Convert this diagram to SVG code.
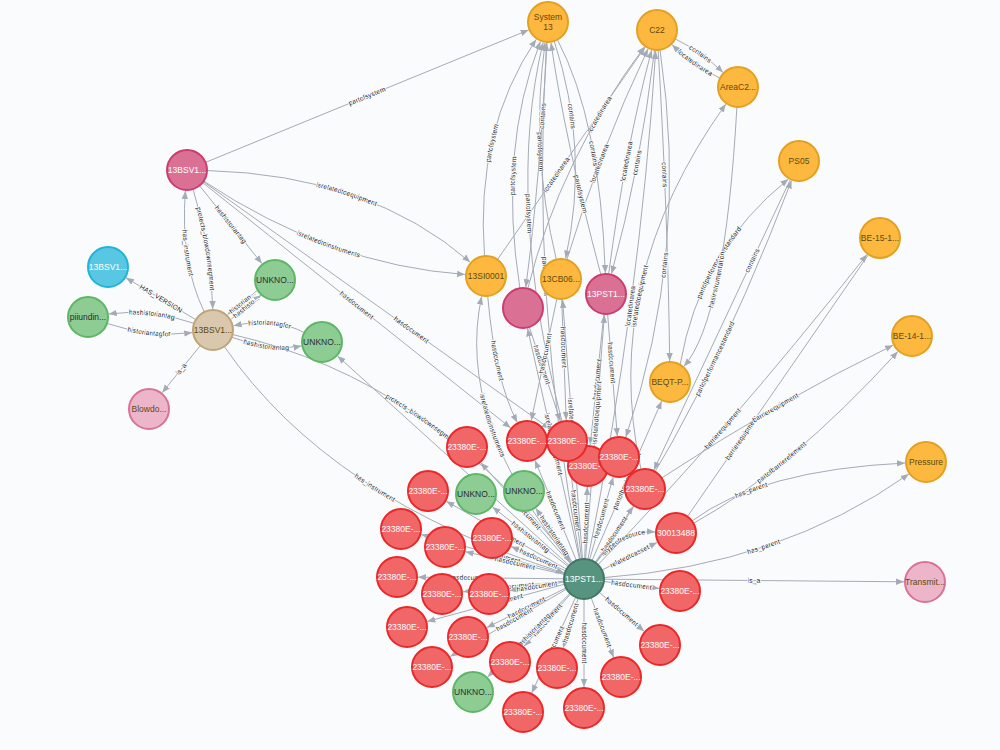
<svg xmlns="http://www.w3.org/2000/svg" width="1000" height="750" viewBox="0 0 1000 750">
<defs>
<marker id="a" viewBox="0 0 10 10" refX="10" refY="5" markerWidth="8" markerHeight="8" markerUnits="userSpaceOnUse" orient="auto-start-reverse"><path d="M0,1 L10,5 L0,9 z" fill="#A5ABB6"/></marker>
<style>
.e{fill:none;stroke:#A5ABB6;stroke-width:1}
.t{font-family:'Liberation Sans',Arial,sans-serif;font-size:6.8px;fill:#222;stroke:#F9FBFD;stroke-width:2px;paint-order:stroke;stroke-linejoin:round;text-anchor:middle}
.n circle{stroke-width:2}
.n text{font-family:'Liberation Sans',Arial,sans-serif;font-size:8.5px;text-anchor:middle;dominant-baseline:central}
.or circle{fill:#FDB93F;stroke:#E3A021}.or text{fill:#604A0E}
.rd circle{fill:#F16667;stroke:#EB2728}.rd text{fill:#fff}
.gr circle{fill:#8DCC93;stroke:#5DB665}.gr text{fill:#2A2C34}
.cr circle{fill:#DA7194;stroke:#CC3C6C}.cr text{fill:#fff}
.pk circle{fill:#ECB5C9;stroke:#DA7298}.pk text{fill:#604A0E}
.tn circle{fill:#D9C8AE;stroke:#C0A378}.tn text{fill:#604A0E}
.bl circle{fill:#57C7E3;stroke:#23B3D7}.bl text{fill:#fff}
.dg circle{fill:#569480;stroke:#447666}.dg text{fill:#fff}
</style>
</defs>
<rect width="1000" height="750" fill="#F9FBFD"/>
<g id="connectors">
<path id="e1" class="e" d="M205.5,162.4 L528.6,30" marker-end="url(#a)"/><text class="t" dy="2.2"><textPath href="#e1" startOffset="50%">partofsystem</textPath></text>
<path id="e2" class="e" d="M207,170.5 Q370,175 470.2,262.2" marker-end="url(#a)"/><text class="t" dy="2.2"><textPath href="#e2" startOffset="50%">isrelatedtoequipment</textPath></text>
<path id="e3" class="e" d="M203.7,181.1 Q330,265 465.1,274.5" marker-end="url(#a)"/><text class="t" dy="2.2"><textPath href="#e3" startOffset="50%">isrelatedtoinstruments</textPath></text>
<path id="e4" class="e" d="M202.6,182.5 L510.6,427.9" marker-end="url(#a)"/><text class="t" dy="2.2"><textPath href="#e4" startOffset="50%">hasdocument</textPath></text>
<path id="e5" class="e" d="M203.3,181.6 L549.9,428.8" marker-end="url(#a)"/><text class="t" dy="2.2"><textPath href="#e5" startOffset="60%">hasdocument</textPath></text>
<path id="e6" class="e" d="M199.5,185.6 L261.9,263.6" marker-end="url(#a)"/><text class="t" dy="2.2"><textPath href="#e6" startOffset="50%">hashistoriantag</textPath></text>
<path id="e7" class="e" d="M193,189.1 Q212,250 212.7,309" marker-end="url(#a)"/><text class="t" dy="2.2"><textPath href="#e7" startOffset="50%">protects_blowdownsegment</textPath></text>
<path id="e8" class="e" d="M185.4,190.9 Q180,262 204.3,312" marker-start="url(#a)"/><text class="t" dy="2.2"><textPath href="#e8" startOffset="50%">has_instrument</textPath></text>
<path id="e9" class="e" d="M126,277.8 L195.8,319.7" marker-start="url(#a)"/><text class="t" dy="2.2"><textPath href="#e9" startOffset="50%">HAS_VERSION</textPath></text>
<path id="e10" class="e" d="M108.8,314 Q150,308 194.1,323.4" marker-start="url(#a)"/><text class="t" dy="2.2"><textPath href="#e10" startOffset="50%">hashistoriantag</textPath></text>
<path id="e11" class="e" d="M106.9,323.4 Q150,338 192.2,332.6" marker-end="url(#a)"/><text class="t" dy="2.2"><textPath href="#e11" startOffset="50%">historiantagfor</textPath></text>
<path id="e12" class="e" d="M162.2,392.7 L200.4,345.5" marker-start="url(#a)"/><text class="t" dy="2.2"><textPath href="#e12" startOffset="50%">is_a</textPath></text>
<path id="e13" class="e" d="M227.5,314.5 L257.5,290.3" marker-start="url(#a)"/><text class="t" dy="2.2"><textPath href="#e13" startOffset="50%">historian...</textPath></text>
<path id="e14" class="e" d="M231.3,319.1 L261.3,294.9" marker-end="url(#a)"/><text class="t" dy="2.2"><textPath href="#e14" startOffset="50%">hashisto...</textPath></text>
<path id="e15" class="e" d="M233.6,325.7 Q275,317 304.3,332.6" marker-start="url(#a)"/><text class="t" dy="2.2"><textPath href="#e15" startOffset="50%">historiantagfor</textPath></text>
<path id="e16" class="e" d="M231.7,337.2 Q270,352 301.4,346" marker-end="url(#a)"/><text class="t" dy="2.2"><textPath href="#e16" startOffset="50%">hashistoriantag</textPath></text>
<path id="e17" class="e" d="M224.3,346.5 Q330,500 564,572.8" marker-end="url(#a)"/><text class="t" dy="2.2"><textPath href="#e17" startOffset="50%">has_instrument</textPath></text>
<path id="e18" class="e" d="M232.5,334.5 Q430,380 571.1,562.4" marker-end="url(#a)"/><text class="t" dy="2.2"><textPath href="#e18" startOffset="50%">protects_blowdownsegment</textPath></text>
<path id="e19" class="e" d="M337.6,356.1 L569.2,565.6" marker-start="url(#a)"/>
<path id="f1" class="e" d="M480.9,462.7 L570.7,564" marker-start="url(#a)"/><text class="t" dy="2.2"><textPath href="#f1" startOffset="50%">hasdocument</textPath></text>
<path id="f2" class="e" d="M535,460.4 L576.4,560.5" marker-start="url(#a)"/><text class="t" dy="2.2"><textPath href="#f2" startOffset="50%">hasdocument</textPath></text>
<path id="f3" class="e" d="M569.6,461.9 L581.6,559.1" marker-start="url(#a)"/><text class="t" dy="2.2"><textPath href="#f3" startOffset="50%">hasdocument</textPath></text>
<path id="f4" class="e" d="M584.7,559 L587.3,487" marker-end="url(#a)"/><text class="t" dy="2.2"><textPath href="#f4" startOffset="50%">hasdocument</textPath></text>
<path id="f5" class="e" d="M589.5,559.8 L613.2,477.2" marker-end="url(#a)"/><text class="t" dy="2.2"><textPath href="#f5" startOffset="50%">hasdocument</textPath></text>
<path id="f6" class="e" d="M595.2,562.4 L633.2,506.4" marker-end="url(#a)"/><text class="t" dy="2.2"><textPath href="#f6" startOffset="50%">hasdocument</textPath></text>
<path id="f7" class="e" d="M446.3,501.3 L566.6,569.2" marker-start="url(#a)"/><text class="t" dy="2.2"><textPath href="#f7" startOffset="50%">hasdocument</textPath></text>
<path id="f8" class="e" d="M421.3,534.5 L564.7,573.7" marker-start="url(#a)"/><text class="t" dy="2.2"><textPath href="#f8" startOffset="55%">hasdocument</textPath></text>
<path id="f9" class="e" d="M465.5,551.7 L564.5,574.5" marker-start="url(#a)"/><text class="t" dy="2.2"><textPath href="#f9" startOffset="50%">hasdocument</textPath></text>
<path id="f10" class="e" d="M511.2,546.5 L565.7,570.9" marker-start="url(#a)"/><text class="t" dy="2.2"><textPath href="#f10" startOffset="50%">hasdocument</textPath></text>
<path id="f11" class="e" d="M418,577.2 L564,578.8" marker-start="url(#a)"/><text class="t" dy="2.2"><textPath href="#f11" startOffset="35%">hasdocument</textPath></text>
<path id="f12" class="e" d="M462.9,591.8 L564.1,581.1" marker-start="url(#a)"/><text class="t" dy="2.2"><textPath href="#f12" startOffset="50%">hasdocument</textPath></text>
<path id="f13" class="e" d="M509.7,590.7 L564.2,582.1" marker-start="url(#a)"/><text class="t" dy="2.2"><textPath href="#f13" startOffset="50%">hasdocument</textPath></text>
<path id="f14" class="e" d="M603.9,581.5 L659.1,588.4" marker-end="url(#a)"/><text class="t" dy="2.2"><textPath href="#f14" startOffset="50%">hasdocument</textPath></text>
<path id="f15" class="e" d="M427.3,621.5 L564.7,584.2" marker-start="url(#a)"/><text class="t" dy="2.2"><textPath href="#f15" startOffset="55%">hasdocument</textPath></text>
<path id="f16" class="e" d="M486.8,627.6 L566.1,587.9" marker-start="url(#a)"/><text class="t" dy="2.2"><textPath href="#f16" startOffset="50%">hasdocument</textPath></text>
<path id="f17" class="e" d="M599.1,592.1 L644.1,631.2" marker-end="url(#a)"/><text class="t" dy="2.2"><textPath href="#f17" startOffset="50%">hasdocument</textPath></text>
<path id="f18" class="e" d="M450.2,656.5 L566.7,589" marker-start="url(#a)"/><text class="t" dy="2.2"><textPath href="#f18" startOffset="55%">hasdocument</textPath></text>
<path id="f19" class="e" d="M524,646.3 L570.7,593.9" marker-start="url(#a)"/><text class="t" dy="2.2"><textPath href="#f19" startOffset="50%">hasdocument</textPath></text>
<path id="f20" class="e" d="M563.1,647.9 L578.2,598.1" marker-start="url(#a)"/><text class="t" dy="2.2"><textPath href="#f20" startOffset="50%">hasdocument</textPath></text>
<path id="f21" class="e" d="M591.1,597.7 L613.6,657.4" marker-end="url(#a)"/><text class="t" dy="2.2"><textPath href="#f21" startOffset="50%">hasdocument</textPath></text>
<path id="f22" class="e" d="M531.8,692.9 L575.7,597.2" marker-start="url(#a)"/><text class="t" dy="2.2"><textPath href="#f22" startOffset="50%">hasdocument</textPath></text>
<path id="f23" class="e" d="M584,599 L584,687" marker-end="url(#a)"/><text class="t" dy="2.2"><textPath href="#f23" startOffset="50%">hasdocument</textPath></text>
<path id="f24" class="e" d="M487.7,677 L570,593.3" marker-start="url(#a)"/><text class="t" dy="2.2"><textPath href="#f24" startOffset="55%">hashistoriantag</textPath></text>
<path id="f25" class="e" d="M492.5,507 L568.3,566.6" marker-start="url(#a)"/><text class="t" dy="2.2"><textPath href="#f25" startOffset="50%">hashistoriantag</textPath></text>
<path id="f26" class="e" d="M535.8,508.3 L572.7,562.5" marker-start="url(#a)"/><text class="t" dy="2.2"><textPath href="#f26" startOffset="50%">hashistoriantag</textPath></text>
<path id="f27" class="e" d="M601.9,570.1 L657.2,542.4" marker-end="url(#a)"/><text class="t" dy="2.2"><textPath href="#f27" startOffset="50%">relatedtoasset</textPath></text>
<path id="f28" class="e" d="M595.8,562.9 Q620,530 655,531.9" marker-end="url(#a)"/><text class="t" dy="2.2"><textPath href="#f28" startOffset="50%">istypeofresource</textPath></text>
<path id="r1" class="e" d="M603.9,577.6 Q780,565 908.8,474.1" marker-end="url(#a)"/><text class="t" dy="2.2"><textPath href="#r1" startOffset="50%">has_parent</textPath></text>
<path id="r2" class="e" d="M604,579.2 L904,581.8" marker-end="url(#a)"/><text class="t" dy="2.2"><textPath href="#r2" startOffset="50%">is_a</textPath></text>
<path id="r3" class="e" d="M598,564.7 Q720,440 867,254.5" marker-end="url(#a)"/><text class="t" dy="2.2"><textPath href="#r3" startOffset="45%">barrierequipment</textPath></text>
<path id="r4" class="e" d="M687.4,516.6 L868,255.3"/><text class="t" dy="2.2"><textPath href="#r4" startOffset="30%">barrierequipment</textPath></text>
<path id="r5" class="e" d="M693.5,523.3 Q790,470 897.9,351.5" marker-end="url(#a)"/><text class="t" dy="2.2"><textPath href="#r5" startOffset="40%">partofbarrierelement</textPath></text>
<path id="r6" class="e" d="M692,521 Q760,470 905,463" marker-end="url(#a)"/><text class="t" dy="2.2"><textPath href="#r6" startOffset="30%">has_parent</textPath></text>
<path id="r7" class="e" d="M661.7,478 Q780,400 893.1,345.2" marker-end="url(#a)"/><text class="t" dy="2.2"><textPath href="#r7" startOffset="50%">barrierequipment</textPath></text>
<path id="r8" class="e" d="M680.1,364.7 Q700,250 788.4,179.1" marker-end="url(#a)"/><text class="t" dy="2.2"><textPath href="#r8" startOffset="50%">partofperformancestandard</textPath></text>
<path id="r9" class="e" d="M683.9,366.3 Q725,320 736.9,107" marker-start="url(#a)"/><text class="t" dy="2.2"><textPath href="#r9" startOffset="35%">hasinstrumentation</textPath></text>
<path id="r10" class="e" d="M653.9,470 L790.5,179.1" marker-start="url(#a)"/><text class="t" dy="2.2"><textPath href="#r10" startOffset="72%">contains</textPath></text>
<path id="r11" class="e" d="M595.8,562.8 Q700,420 791.5,180.6" marker-end="url(#a)"/><text class="t" dy="2.2"><textPath href="#r11" startOffset="55%">partofperformancestandard</textPath></text>
<path id="r12" class="e" d="M592,560.7 L661.6,401.2" marker-end="url(#a)"/><text class="t" dy="2.2"><textPath href="#r12" startOffset="50%">partofbarrierelement</textPath></text>
<path id="c1" class="e" d="M658.2,50 Q668,220 669.7,361" marker-end="url(#a)"/><text class="t" dy="2.2"><textPath href="#c1" startOffset="40%">contains</textPath></text>
<path id="c2" class="e" d="M611.5,273.8 Q640,170 654.6,49.9" marker-start="url(#a)"/><text class="t" dy="2.2"><textPath href="#c2" startOffset="50%">contains</textPath></text>
<path id="c3" class="e" d="M675,38.8 Q702,52 723,72.4" marker-end="url(#a)"/><text class="t" dy="2.2"><textPath href="#c3" startOffset="50%">contains</textPath></text>
<path id="c4" class="e" d="M672.1,44.7 Q692.9,65 720,78.2" marker-start="url(#a)"/><text class="t" dy="2.2"><textPath href="#c4" startOffset="50%">locatedinarea</textPath></text>
<path id="c5" class="e" d="M640.8,468.5 Q600,280 725.8,104.1" marker-end="url(#a)"/><text class="t" dy="2.2"><textPath href="#c5" startOffset="45%">isrelatedtoequipment</textPath></text>
<path id="c6" class="e" d="M497.4,259.6 L645,47.2" marker-end="url(#a)"/><text class="t" dy="2.2"><textPath href="#c6" startOffset="40%">locatedinarea</textPath></text>
<path id="c7" class="e" d="M566.8,259.9 Q600,150 648,48.9" marker-end="url(#a)"/><text class="t" dy="2.2"><textPath href="#c7" startOffset="45%">locatedinarea</textPath></text>
<path id="c8" class="e" d="M527.8,288.6 Q560,160 644.4,46.8" marker-end="url(#a)"/><text class="t" dy="2.2"><textPath href="#c8" startOffset="70%">locatedinarea</textPath></text>
<path id="c9" class="e" d="M608.6,274.2 Q625,150 651.6,50.3" marker-end="url(#a)"/><text class="t" dy="2.2"><textPath href="#c9" startOffset="50%">locatedinarea</textPath></text>
<path id="c10" class="e" d="M587.9,559.4 Q640,300 655.7,51" marker-end="url(#a)"/><text class="t" dy="2.2"><textPath href="#c10" startOffset="50%">locatedinarea</textPath></text>
<path id="c11" class="e" d="M625.8,437.1 Q690,250 660,49.8" marker-start="url(#a)"/><text class="t" dy="2.2"><textPath href="#c11" startOffset="45%">contains</textPath></text>
<path id="s1" class="e" d="M484.5,256.1 Q475,130 536.2,39.4" marker-end="url(#a)"/><text class="t" dy="2.2"><textPath href="#s1" startOffset="50%">partofsystem</textPath></text>
<path id="s2" class="e" d="M519.9,288.2 Q498,150 540.4,41.6" marker-end="url(#a)"/><text class="t" dy="2.2"><textPath href="#s2" startOffset="45%">partofsystem</textPath></text>
<path id="s3" class="e" d="M545.1,42.8 Q530,150 556.3,259.6" marker-start="url(#a)"/><text class="t" dy="2.2"><textPath href="#s3" startOffset="50%">partofsystem</textPath></text>
<path id="s4" class="e" d="M551,42.8 Q565,140 600.9,274.7" marker-start="url(#a)"/><text class="t" dy="2.2"><textPath href="#s4" startOffset="65%">partofsystem</textPath></text>
<path id="s5" class="e" d="M525.8,287.2 Q540,180 547,42" marker-start="url(#a)"/><text class="t" dy="2.2"><textPath href="#s5" startOffset="70%">contains</textPath></text>
<path id="s6" class="e" d="M554.2,41 Q590,150 565.6,258.5" marker-end="url(#a)"/><text class="t" dy="2.2"><textPath href="#s6" startOffset="35%">contains</textPath></text>
<path id="s7" class="e" d="M557.4,39.7 Q600,120 605.3,273" marker-end="url(#a)"/><text class="t" dy="2.2"><textPath href="#s7" startOffset="50%">contains</textPath></text>
<path id="s8" class="e" d="M546.6,42.9 Q530,300 580.2,559.4" marker-start="url(#a)"/><text class="t" dy="2.2"><textPath href="#s8" startOffset="45%">partofsystem</textPath></text>
<path id="s9" class="e" d="M543.1,42.4 Q505,200 562,421.6" marker-start="url(#a)"/><text class="t" dy="2.2"><textPath href="#s9" startOffset="45%">partofsystem</textPath></text>
<path id="d1" class="e" d="M487.7,295.9 Q495,380 517.3,422.4" marker-end="url(#a)"/><text class="t" dy="2.2"><textPath href="#d1" startOffset="50%">hasdocument</textPath></text>
<path id="d2" class="e" d="M529.3,327 L560.4,421.1" marker-end="url(#a)"/><text class="t" dy="2.2"><textPath href="#d2" startOffset="40%">hasdocument</textPath></text>
<path id="d3" class="e" d="M531.3,420.4 L556.9,298.6" marker-start="url(#a)"/><text class="t" dy="2.2"><textPath href="#d3" startOffset="55%">hasdocument</textPath></text>
<path id="d4" class="e" d="M561.7,299 L566.2,420" marker-end="url(#a)"/><text class="t" dy="2.2"><textPath href="#d4" startOffset="40%">hasdocument</textPath></text>
<path id="d5" class="e" d="M590.2,445.1 L603.9,313.9" marker-start="url(#a)"/><text class="t" dy="2.2"><textPath href="#d5" startOffset="50%">hasdocument</textPath></text>
<path id="d6" class="e" d="M607.6,313.9 L617.3,436.1" marker-end="url(#a)"/><text class="t" dy="2.2"><textPath href="#d6" startOffset="40%">hasdocument</textPath></text>
<path id="d7" class="e" d="M481.6,296.5 Q455,420 571.4,563.5" marker-start="url(#a)"/><text class="t" dy="2.2"><textPath href="#d7" startOffset="45%">isrelatedtoinstruments</textPath></text>
<path id="d8" class="e" d="M585.5,559.1 L604.4,314.9" marker-end="url(#a)"/><text class="t" dy="2.2"><textPath href="#d8" startOffset="60%">isrelatedtoequipment</textPath></text>
<path id="d9" class="e" d="M562.6,299.9 L582.5,559.1" marker-start="url(#a)"/><text class="t" dy="2.2"><textPath href="#d9" startOffset="50%">isrelatedtoequipment</textPath></text>
<path id="d10" class="e" d="M527.6,328.5 L579.6,559.5" marker-start="url(#a)"/><text class="t" dy="2.2"><textPath href="#d10" startOffset="50%">isrelatedtoequipment</textPath></text>
</g>
<g id="n-sys" class="n or"><circle cx="548" cy="22" r="20"/><text x="548" y="17">System</text><text x="548" y="27">13</text></g>
<g id="n-c22" class="n or"><circle cx="657" cy="30" r="20"/><text x="657" y="30">C22</text></g>
<g id="n-area" class="n or"><circle cx="738" cy="87" r="20"/><text x="738" y="87">AreaC2...</text></g>
<g id="n-ps05" class="n or"><circle cx="799" cy="161" r="20"/><text x="799" y="161">PS05</text></g>
<g id="n-be15" class="n or"><circle cx="880" cy="238" r="20"/><text x="880" y="238">BE-15-1...</text></g>
<g id="n-be14" class="n or"><circle cx="912" cy="336" r="20"/><text x="912" y="336">BE-14-1...</text></g>
<g id="n-press" class="n or"><circle cx="926" cy="462" r="20"/><text x="926" y="462">Pressure</text></g>
<g id="n-trans" class="n pk"><circle cx="925" cy="582" r="20"/><text x="925" y="582">Transmit...</text></g>
<g id="n-bsvtop" class="n cr"><circle cx="187" cy="170" r="20"/><text x="187" y="170">13BSV1...</text></g>
<g id="n-bsvtan" class="n tn"><circle cx="213" cy="330" r="20"/><text x="213" y="330">13BSV1...</text></g>
<g id="n-bsvblue" class="n bl"><circle cx="108" cy="267" r="20"/><text x="108" y="267">13BSV1...</text></g>
<g id="n-piiu" class="n gr"><circle cx="88" cy="317" r="20"/><text x="88" y="317">piiundin...</text></g>
<g id="n-blow" class="n pk"><circle cx="149" cy="409" r="20"/><text x="149" y="409">Blowdo...</text></g>
<g id="n-unk1" class="n gr"><circle cx="275" cy="280" r="20"/><text x="275" y="280">UNKNO...</text></g>
<g id="n-unk2" class="n gr"><circle cx="322" cy="342" r="20"/><text x="322" y="342">UNKNO...</text></g>
<g id="n-si" class="n or"><circle cx="486" cy="276" r="20"/><text x="486" y="276">13SI0001</text></g>
<g id="n-crim" class="n cr"><circle cx="523" cy="308" r="20"/></g>
<g id="n-cb" class="n or"><circle cx="561" cy="279" r="20"/><text x="561" y="279">13CB06...</text></g>
<g id="n-pst" class="n cr"><circle cx="606" cy="294" r="20"/><text x="606" y="294">13PST1...</text></g>
<g id="n-beqt" class="n or"><circle cx="670" cy="382" r="20"/><text x="670" y="382">BEQT-P...</text></g>
<g id="n-r1" class="n rd"><circle cx="467" cy="447" r="20"/><text x="467" y="447">23380E-...</text></g>
<g id="n-r2" class="n rd"><circle cx="527" cy="441" r="20"/><text x="527" y="441">23380E-...</text></g>
<g id="n-r4" class="n rd"><circle cx="588" cy="466" r="20"/><text x="588" y="466">23380E-...</text></g>
<g id="n-r3" class="n rd"><circle cx="567" cy="441" r="20"/><text x="567" y="441">23380E-...</text></g>
<g id="n-r5" class="n rd"><circle cx="619" cy="457" r="20"/><text x="619" y="457">23380E-...</text></g>
<g id="n-r6" class="n rd"><circle cx="645" cy="489" r="20"/><text x="645" y="489">23380E-...</text></g>
<g id="n-r7" class="n rd"><circle cx="428" cy="491" r="20"/><text x="428" y="491">23380E-...</text></g>
<g id="n-unk3" class="n gr"><circle cx="476" cy="494" r="20"/><text x="476" y="494">UNKNO...</text></g>
<g id="n-unk4" class="n gr"><circle cx="524" cy="491" r="20"/><text x="524" y="491">UNKNO...</text></g>
<g id="n-r8" class="n rd"><circle cx="401" cy="529" r="20"/><text x="401" y="529">23380E-...</text></g>
<g id="n-r9" class="n rd"><circle cx="445" cy="547" r="20"/><text x="445" y="547">23380E-...</text></g>
<g id="n-r10" class="n rd"><circle cx="492" cy="538" r="20"/><text x="492" y="538">23380E-...</text></g>
<g id="n-n300" class="n rd"><circle cx="676" cy="533" r="20"/><text x="676" y="533">30013488</text></g>
<g id="n-r11" class="n rd"><circle cx="397" cy="577" r="20"/><text x="397" y="577">23380E-...</text></g>
<g id="n-r12" class="n rd"><circle cx="442" cy="594" r="20"/><text x="442" y="594">23380E-...</text></g>
<g id="n-r13" class="n rd"><circle cx="489" cy="594" r="20"/><text x="489" y="594">23380E-...</text></g>
<g id="n-r14" class="n rd"><circle cx="680" cy="591" r="20"/><text x="680" y="591">23380E-...</text></g>
<g id="n-r15" class="n rd"><circle cx="407" cy="627" r="20"/><text x="407" y="627">23380E-...</text></g>
<g id="n-r16" class="n rd"><circle cx="468" cy="637" r="20"/><text x="468" y="637">23380E-...</text></g>
<g id="n-r17" class="n rd"><circle cx="660" cy="645" r="20"/><text x="660" y="645">23380E-...</text></g>
<g id="n-r18" class="n rd"><circle cx="432" cy="667" r="20"/><text x="432" y="667">23380E-...</text></g>
<g id="n-r19" class="n rd"><circle cx="510" cy="662" r="20"/><text x="510" y="662">23380E-...</text></g>
<g id="n-r20" class="n rd"><circle cx="557" cy="668" r="20"/><text x="557" y="668">23380E-...</text></g>
<g id="n-r21" class="n rd"><circle cx="621" cy="677" r="20"/><text x="621" y="677">23380E-...</text></g>
<g id="n-unk5" class="n gr"><circle cx="473" cy="692" r="20"/><text x="473" y="692">UNKNO...</text></g>
<g id="n-r22" class="n rd"><circle cx="523" cy="712" r="20"/><text x="523" y="712">23380E-...</text></g>
<g id="n-r23" class="n rd"><circle cx="584" cy="708" r="20"/><text x="584" y="708">23380E-...</text></g>
<g id="n-center" class="n dg"><circle cx="584" cy="579" r="20"/><text x="584" y="579">13PST1...</text></g>
</svg>
